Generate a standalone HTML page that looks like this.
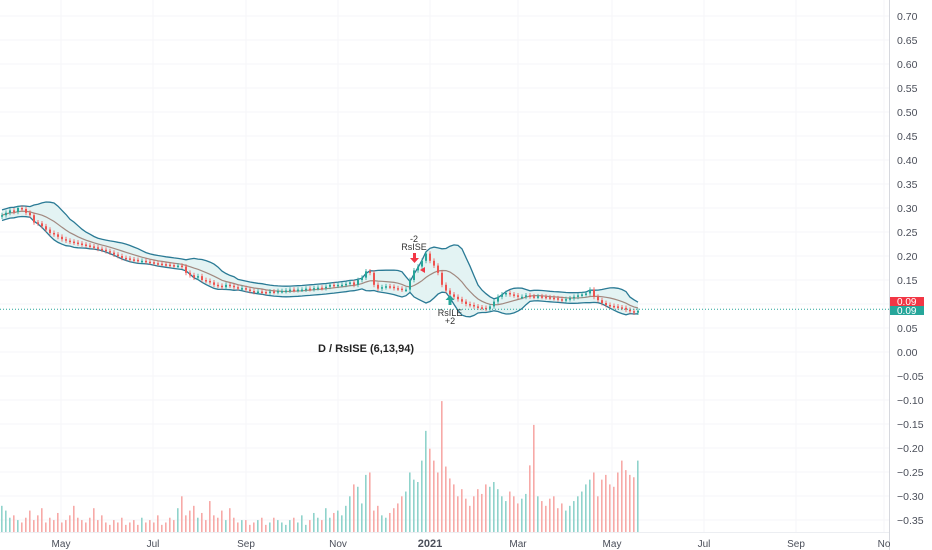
<!DOCTYPE html>
<html><head><meta charset="utf-8">
<style>
html,body{margin:0;padding:0;background:#fff;}
svg{display:block;font-family:"Liberation Sans",sans-serif;}
</style></head>
<body>
<svg id="chart" width="932" height="550" viewBox="0 0 932 550">
<g id="grid"></g>
<g id="vol"></g>
<g id="bands"></g>
<g id="candles"></g>
<g id="yaxis"></g>
<g id="xaxis"></g>
<g id="marks">
  <text x="414" y="242" font-size="9" text-anchor="middle" fill="#333">-2</text>
  <text x="414" y="250" font-size="9" text-anchor="middle" fill="#333">RsISE</text>
  <path d="M413 253 h3 v5 h3 l-4.5 5 l-4.5 -5 h3z" fill="#f23645"/>
  <path d="M420 270 l5 -3 v6z" fill="#f23645"/>
  <path d="M448.5 305 h3 v-5 h3 l-4.5 -5 l-4.5 5 h3z" fill="#26a69a"/>
  <text x="450" y="316" font-size="9" text-anchor="middle" fill="#333">RsILE</text>
  <text x="450" y="324" font-size="9" text-anchor="middle" fill="#333">+2</text>
  <text x="366" y="352" font-size="11" font-weight="bold" text-anchor="middle" fill="#222">D / RsISE (6,13,94)</text>
</g>
</svg>
<script>
const closes=[0.285,0.29,0.295,0.292,0.30,0.298,0.29,0.285,0.27,0.268,0.262,
0.255,0.248,0.245,0.24,0.235,0.232,0.23,0.228,0.226,0.224,
0.222,0.22,0.218,0.215,0.213,0.21,0.207,0.203,0.2,0.196,
0.195,0.193,0.192,0.19,0.19,0.188,0.187,0.185,0.184,0.183,
0.182,0.181,0.18,0.18,0.178,0.165,0.16,0.155,0.158,0.15,
0.148,0.145,0.14,0.138,0.135,0.14,0.138,0.135,0.133,0.133,
0.13,0.127,0.125,0.126,0.125,0.124,0.126,0.125,0.127,0.127,
0.128,0.13,0.129,0.13,0.13,0.132,0.131,0.133,0.134,0.133,
0.136,0.14,0.138,0.14,0.14,0.142,0.145,0.14,0.15,0.155,
0.168,0.165,0.14,0.132,0.135,0.137,0.136,0.133,0.132,0.13,
0.13,0.15,0.17,0.178,0.19,0.205,0.19,0.18,0.165,0.14,
0.128,0.12,0.115,0.11,0.105,0.1,0.098,0.095,0.093,0.092,
0.09,0.095,0.105,0.115,0.12,0.123,0.12,0.118,0.115,0.115,
0.118,0.116,0.115,0.116,0.115,0.114,0.113,0.112,0.11,0.108,
0.11,0.112,0.115,0.118,0.12,0.122,0.13,0.115,0.108,0.102,
0.098,0.096,0.095,0.093,0.092,0.088,0.085,0.082,0.086];
const volumes=[22,18,12,14,10,8,12,18,10,14,20,8,12,10,16,8,10,14,22,12,10,
8,12,20,10,14,8,6,10,8,12,6,8,10,6,12,8,10,8,14,6,
8,12,10,20,30,14,18,22,12,16,10,26,14,12,18,10,20,12,8,10,
10,6,8,10,12,6,8,12,10,8,6,10,12,8,14,6,10,16,12,10,
20,12,16,18,14,22,30,40,38,24,48,50,18,22,14,12,16,20,24,30,
34,50,44,42,60,85,70,60,50,110,55,45,40,30,36,28,22,30,36,32,
40,38,42,36,30,26,34,30,24,28,32,56,90,30,26,22,28,30,20,24,
18,22,26,30,34,40,44,50,30,44,48,40,38,50,60,52,48,46,60];
const yTicks=[0.70,0.65,0.60,0.55,0.50,0.45,0.40,0.35,0.30,0.25,0.20,0.15,0.10,0.05,0.00,-0.05,-0.10,-0.15,-0.20,-0.25,-0.30,-0.35];
const xLabels=["May","Jul","Sep","Nov","2021","Mar","May","Jul","Sep","No"];
const xLabelPos=[61,153,246,338,430,518,612,704,796,884];
const lastClose=0.09;

const NS="http://www.w3.org/2000/svg";
const yS=v=>352-v*480;
const xS=i=>2+i*4;
const vS=v=>v*1.19;
function mk(parent,tag,attrs){const e=document.createElementNS(NS,tag);for(const k in attrs)e.setAttribute(k,attrs[k]);document.getElementById(parent).appendChild(e);return e;}

yTicks.forEach(v=>{const l=mk('grid','line',{x1:0,x2:889,y1:yS(v),y2:yS(v),stroke:'#f5f6f8','stroke-width':1});

});
xLabelPos.forEach(x=>{const l=mk('grid','line',{x1:x,x2:x,y1:0,y2:532,stroke:'#f5f6f8','stroke-width':1});

});
const axl=mk('grid','line',{x1:889.5,x2:889.5,y1:0,y2:550,stroke:'#d6d8de','stroke-width':1});


const bxl=mk('grid','line',{x1:0,x2:889,y1:532.5,y2:532.5,stroke:'#eceef2','stroke-width':1});



const n=Math.min(closes.length,volumes.length);
for(let i=0;i<n;i++){
  const up=i===0||closes[i]>=closes[i-1];
  const h=vS(volumes[i]);
  const r=mk('vol','rect',{x:xS(i)-1,y:532-h,width:1.6,height:h,fill:up?'#8fd3cb':'#f7a9a7'});
  
  
}

const P=10;let up=[],lo=[],mid=[];
for(let i=0;i<closes.length;i++){
  const s=closes.slice(Math.max(0,i-P+1),i+1);
  const m=s.reduce((a,b)=>a+b,0)/s.length;
  const sd=Math.sqrt(s.reduce((a,b)=>a+(b-m)*(b-m),0)/s.length);
  const w=Math.max(sd*2,0.011);
  mid.push([xS(i),yS(m)]);up.push([xS(i),yS(m+w)]);lo.push([xS(i),yS(m-w)]);
}
const pts=a=>a.map(p=>p[0].toFixed(1)+','+p[1].toFixed(1)).join(' ');
const fill=mk('bands','polygon',{points:pts(up)+' '+pts(lo.slice().reverse()),fill:'#e3f3f3'});


const bu=mk('bands','polyline',{points:pts(up),fill:'none',stroke:'#2a7a95','stroke-width':1.3});


const bl=mk('bands','polyline',{points:pts(lo),fill:'none',stroke:'#2a7a95','stroke-width':1.3});


const bm=mk('bands','polyline',{points:pts(mid),fill:'none',stroke:'#a1887f','stroke-width':1.2});



for(let i=0;i<closes.length;i++){
  const o=i===0?closes[0]-0.003:closes[i-1];const c=closes[i];
  const upc=c>=o;const col=upc?'#26a69a':'#ef5350';
  const hi=Math.max(o,c)+0.005,lw=Math.min(o,c)-0.005;
  const wk=mk('candles','line',{x1:xS(i),x2:xS(i),y1:yS(hi),y2:yS(lw),stroke:col,'stroke-width':0.8});
  
  
  const t=Math.min(yS(o),yS(c));const h=Math.max(1.5,Math.abs(yS(o)-yS(c)));
  const b=mk('candles','rect',{x:xS(i)-1,y:t,width:2,height:h,fill:col});
  
  
}
const dl=mk('candles','line',{x1:0,x2:889,y1:yS(lastClose)+0.5,y2:yS(lastClose)+0.5,stroke:'#26a69a','stroke-width':1,'stroke-dasharray':'1 2'});



yTicks.forEach(v=>{const t=mk('yaxis','text',{x:897,y:yS(v)+4,'font-size':10.5,fill:'#4a4e59'});
t.textContent=(v<0?'\u2212':'')+Math.abs(v).toFixed(2);

});
const rt=mk('yaxis','rect',{x:890,y:297,width:34,height:9,fill:'#f23645'});


const rtt=mk('yaxis','text',{x:897,y:305,'font-size':10,fill:'#fff'});rtt.textContent='0.09';


const gt=mk('yaxis','rect',{x:890,y:306,width:34,height:9,fill:'#26a69a'});


const gtt=mk('yaxis','text',{x:897,y:314,'font-size':10,fill:'#fff'});gtt.textContent='0.09';



xLabels.forEach((s,i)=>{const t=mk('xaxis','text',{x:xLabelPos[i],y:547,'font-size':s==='2021'?11:10,'font-weight':s==='2021'?'bold':'normal','text-anchor':'middle',fill:'#4a4e59'});
t.textContent=s;

});
</script>
</body></html>
